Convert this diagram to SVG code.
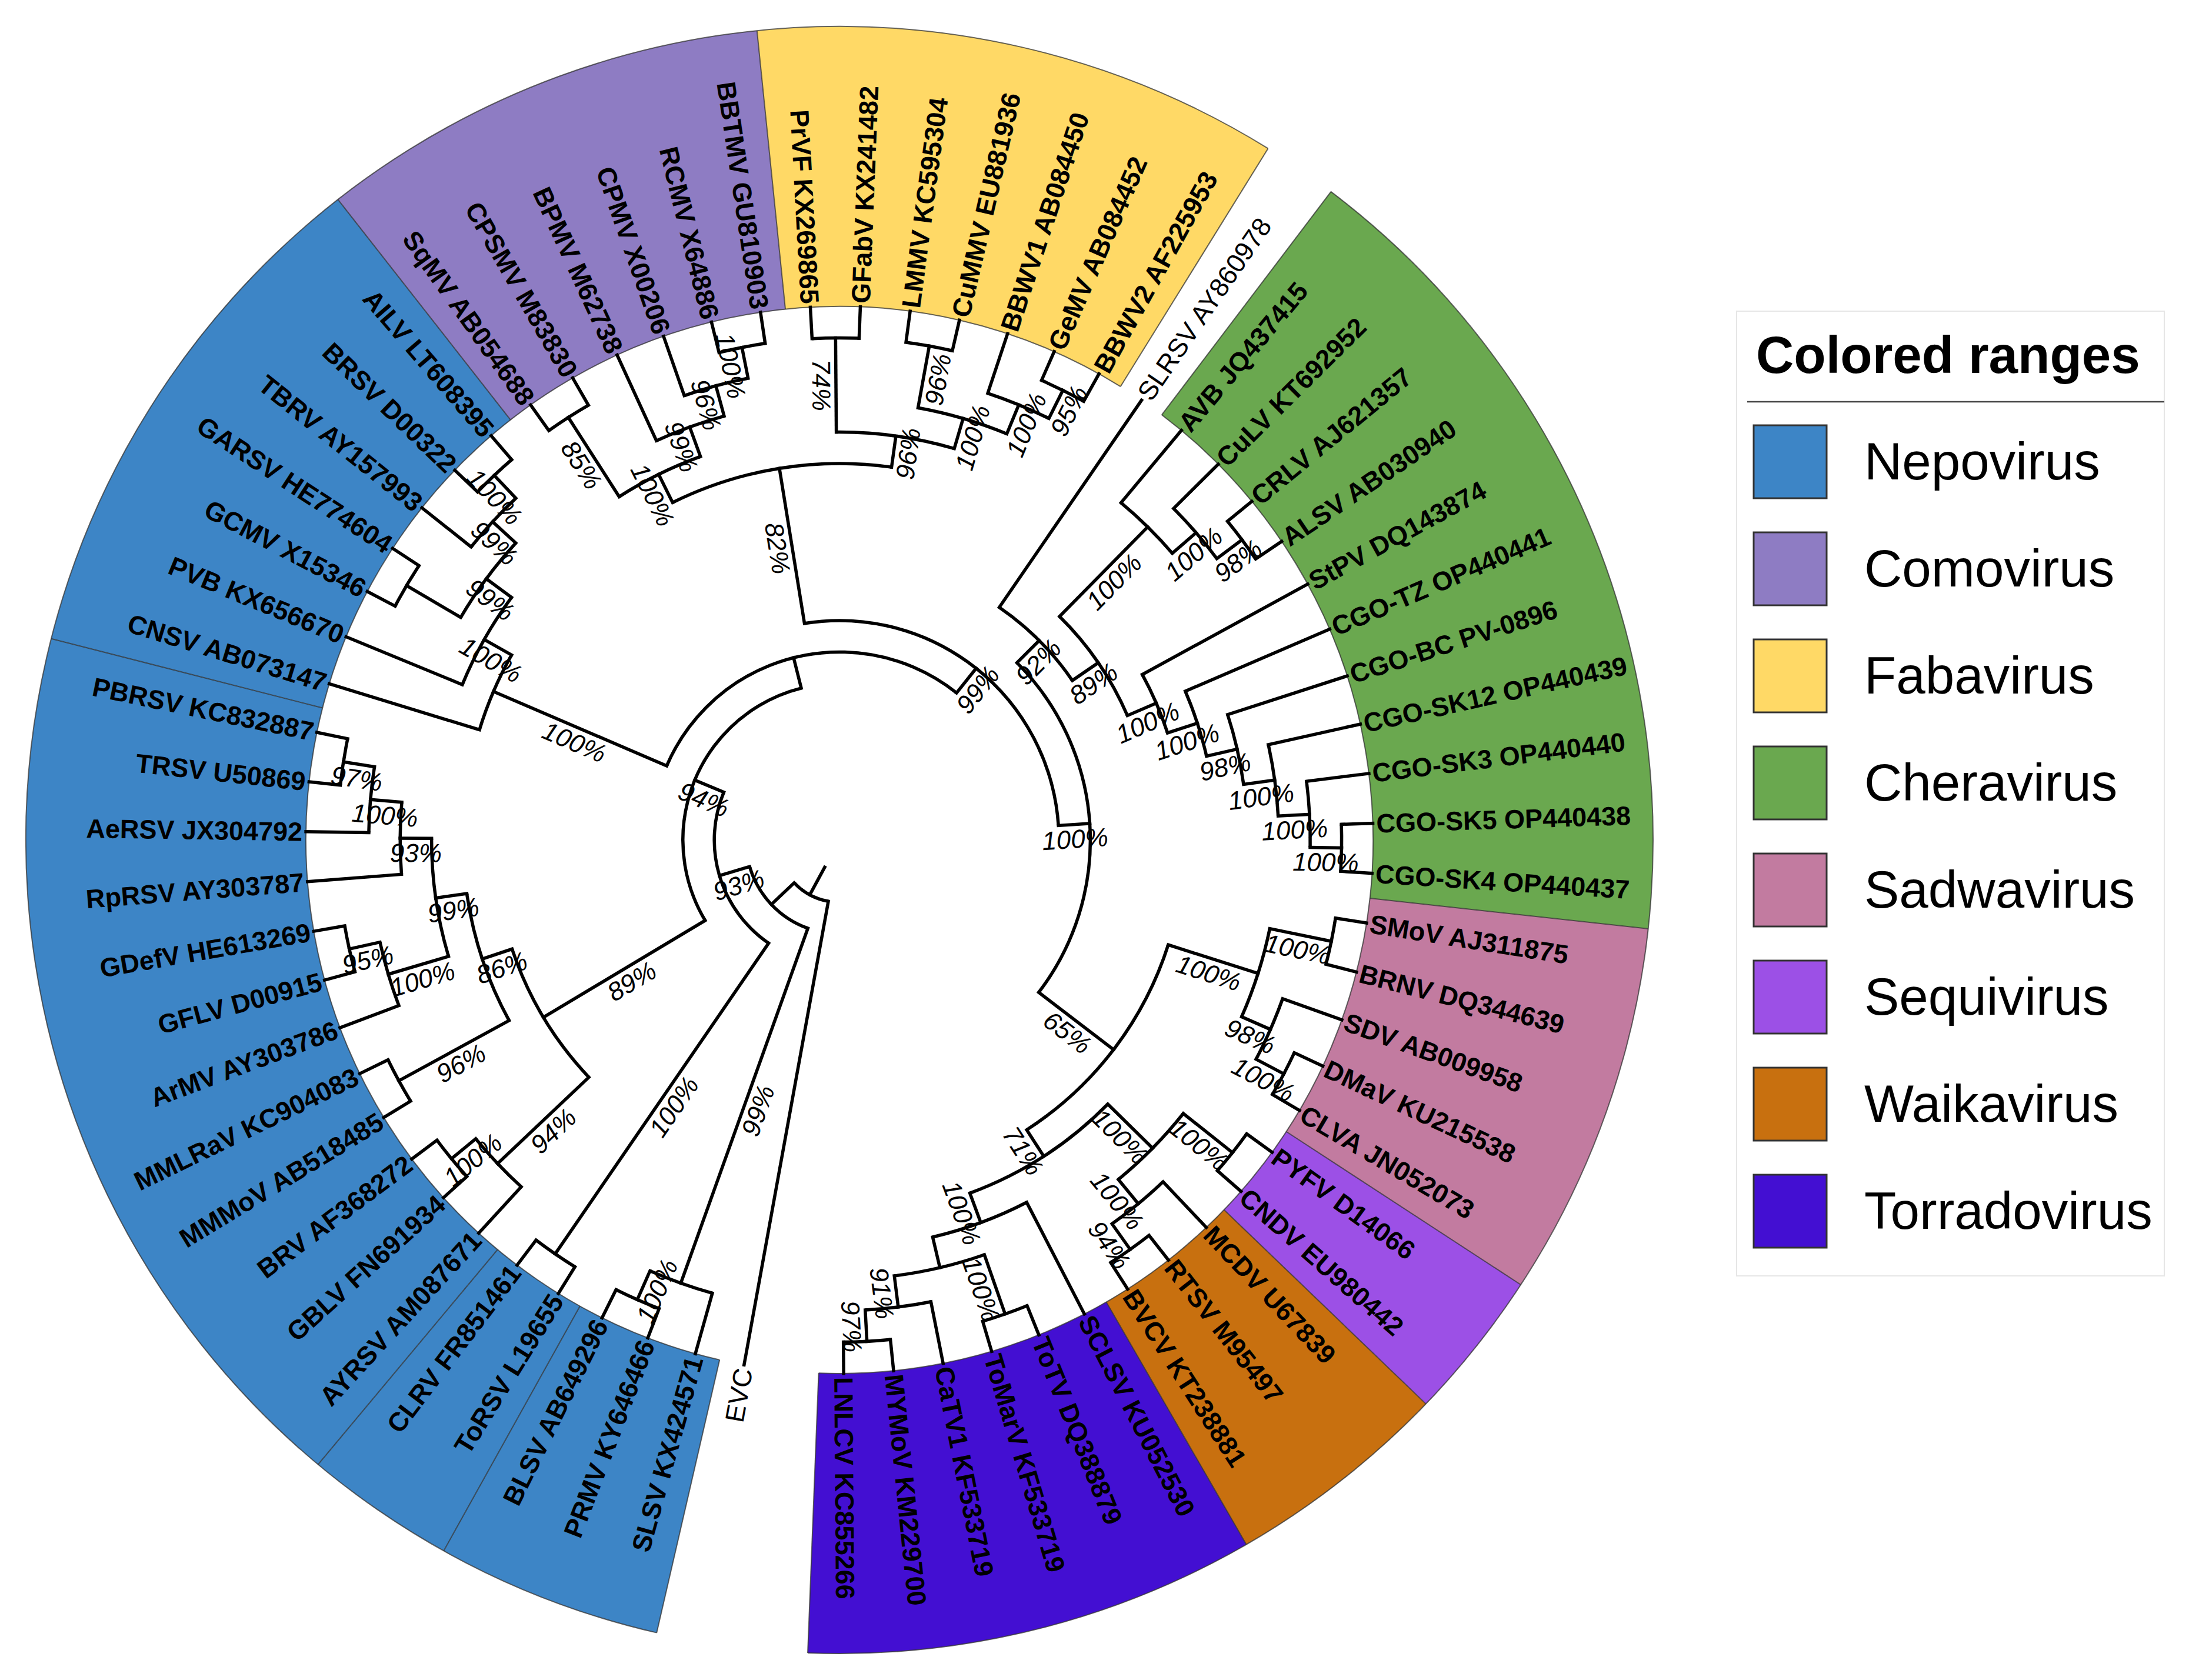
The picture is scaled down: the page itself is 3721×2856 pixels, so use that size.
<svg xmlns="http://www.w3.org/2000/svg" width="3721" height="2856" viewBox="0 0 3721 2856">
<style>
.lf{font-family:"Liberation Sans",Arial,sans-serif;font-size:45px;font-weight:bold;fill:#000}
.rg{font-weight:normal}
.e{text-anchor:end}
.bs{font-family:"Liberation Sans",Arial,sans-serif;font-size:44px;font-style:italic;text-anchor:middle;fill:#000}
.br line{stroke:#000;stroke-width:5.5;stroke-linecap:square}
.br circle{fill:none;stroke:#000;stroke-width:5.5}
.wd{fill:none;stroke-width:476}
.bd{fill:none;stroke:#333;stroke-opacity:0.75;stroke-width:2}
.lg{font-family:"Liberation Sans",Arial,sans-serif;font-size:89px;fill:#000}
.sw{stroke:#333;stroke-width:3}
</style>
<rect width="3721" height="2856" fill="#fff"/>
<g id="ranges" transform="translate(1427,1428)">
<circle class="wd" r="1145" stroke="#3d85c6" pathLength="360" stroke-dasharray="16.122 360" transform="rotate(102.983)"/>
<circle class="wd" r="1145" stroke="#3d85c6" pathLength="360" stroke-dasharray="10.75 360" transform="rotate(119.105)"/>
<circle class="wd" r="1145" stroke="#3d85c6" pathLength="360" stroke-dasharray="64.475 360" transform="rotate(129.855)"/>
<circle class="wd" r="1145" stroke="#3d85c6" pathLength="360" stroke-dasharray="37.61 360" transform="rotate(194.33)"/>
<circle class="wd" r="1145" stroke="#8e7cc3" pathLength="360" stroke-dasharray="32.24 360" transform="rotate(231.94)"/>
<circle class="wd" r="1145" stroke="#ffd966" pathLength="360" stroke-dasharray="37.607 360" transform="rotate(264.18)"/>
<circle class="wd" r="1145" stroke="#6aa84f" pathLength="360" stroke-dasharray="59.102 360" transform="rotate(307.163)"/>
<circle class="wd" r="1145" stroke="#c27ba0" pathLength="360" stroke-dasharray="26.87 360" transform="rotate(6.265)"/>
<circle class="wd" r="1145" stroke="#9c50e6" pathLength="360" stroke-dasharray="10.745 360" transform="rotate(33.135)"/>
<circle class="wd" r="1145" stroke="#c8700f" pathLength="360" stroke-dasharray="16.115 360" transform="rotate(43.88)"/>
<circle class="wd" r="1145" stroke="#430fd2" pathLength="360" stroke-dasharray="32.242 360" transform="rotate(59.995)"/>
<circle class="bd" r="1383" pathLength="360" stroke-dasharray="198.804 360" transform="rotate(102.983)"/>
<circle class="bd" r="907" pathLength="360" stroke-dasharray="198.804 360" transform="rotate(102.983)"/>
<circle class="bd" r="1383" pathLength="360" stroke-dasharray="145.074 360" transform="rotate(307.163)"/>
<circle class="bd" r="907" pathLength="360" stroke-dasharray="145.074 360" transform="rotate(307.163)"/>
<g class="bd">
<line x1="907" x2="1383" transform="rotate(102.983)"/>
<line x1="907" x2="1383" transform="rotate(119.105)"/>
<line x1="907" x2="1383" transform="rotate(129.855)"/>
<line x1="907" x2="1383" transform="rotate(194.33)"/>
<line x1="907" x2="1383" transform="rotate(231.94)"/>
<line x1="907" x2="1383" transform="rotate(264.18)"/>
<line x1="907" x2="1383" transform="rotate(301.787)"/>
<line x1="907" x2="1383" transform="rotate(307.163)"/>
<line x1="907" x2="1383" transform="rotate(6.265)"/>
<line x1="907" x2="1383" transform="rotate(33.135)"/>
<line x1="907" x2="1383" transform="rotate(43.88)"/>
<line x1="907" x2="1383" transform="rotate(59.995)"/>
<line x1="907" x2="1383" transform="rotate(92.237)"/>
</g>
</g>
<g id="branches" class="br" transform="translate(1427,1428)">
<line x1="52.6" x2="106" transform="rotate(118.45)"/>
<line x1="106" x2="907" transform="rotate(100.3)"/>
<line x1="106" x2="159.4" transform="rotate(136.59)"/>
<line x1="159.4" x2="800.2" transform="rotate(109.7)"/>
<line x1="159.4" x2="212.8" transform="rotate(163.48)"/>
<line x1="212.8" x2="853.6" transform="rotate(124.48)"/>
<line x1="212.8" x2="266.2" transform="rotate(202.48)"/>
<line x1="266.2" x2="586.6" transform="rotate(149.08)"/>
<line x1="266.2" x2="319.6" transform="rotate(255.875)"/>
<line x1="319.6" x2="640" transform="rotate(203.23)"/>
<line x1="319.6" x2="373" transform="rotate(308.52)"/>
<line x1="373" x2="640" transform="rotate(260.82)"/>
<line x1="373" x2="426.4" transform="rotate(356.22)"/>
<line x1="426.4" x2="479.8" transform="rotate(315.03)"/>
<line x1="426.4" x2="586.6" transform="rotate(37.41)"/>
<line x1="479.8" x2="907" transform="rotate(304.48)"/>
<line x1="479.8" x2="533.2" transform="rotate(325.59)"/>
<line x1="533.2" x2="746.8" transform="rotate(314.55)"/>
<line x1="746.8" x2="907" transform="rotate(309.85)"/>
<line x1="746.8" x2="800.2" transform="rotate(319.25)"/>
<line x1="800.2" x2="907" transform="rotate(315.22)"/>
<line x1="800.2" x2="853.6" transform="rotate(323.285)"/>
<line x1="853.6" x2="907" transform="rotate(320.6)"/>
<line x1="853.6" x2="907" transform="rotate(325.97)"/>
<line x1="533.2" x2="586.6" transform="rotate(336.63)"/>
<line x1="586.6" x2="907" transform="rotate(331.34)"/>
<line x1="586.6" x2="640" transform="rotate(341.92)"/>
<line x1="640" x2="907" transform="rotate(336.72)"/>
<line x1="640" x2="693.4" transform="rotate(347.13)"/>
<line x1="693.4" x2="907" transform="rotate(342.09)"/>
<line x1="693.4" x2="746.8" transform="rotate(352.165)"/>
<line x1="746.8" x2="907" transform="rotate(347.46)"/>
<line x1="746.8" x2="800.2" transform="rotate(356.87)"/>
<line x1="800.2" x2="907" transform="rotate(352.84)"/>
<line x1="800.2" x2="853.6" transform="rotate(0.895)"/>
<line x1="853.6" x2="907" transform="rotate(358.21)"/>
<line x1="853.6" x2="907" transform="rotate(3.58)"/>
<line x1="586.6" x2="746.8" transform="rotate(17.685)"/>
<line x1="746.8" x2="853.6" transform="rotate(11.64)"/>
<line x1="853.6" x2="907" transform="rotate(8.95)"/>
<line x1="853.6" x2="907" transform="rotate(14.33)"/>
<line x1="746.8" x2="800.2" transform="rotate(23.73)"/>
<line x1="800.2" x2="907" transform="rotate(19.7)"/>
<line x1="800.2" x2="853.6" transform="rotate(27.76)"/>
<line x1="853.6" x2="907" transform="rotate(25.07)"/>
<line x1="853.6" x2="907" transform="rotate(30.45)"/>
<line x1="586.6" x2="640" transform="rotate(57.14)"/>
<line x1="640" x2="746.8" transform="rotate(44.55)"/>
<line x1="746.8" x2="853.6" transform="rotate(38.505)"/>
<line x1="853.6" x2="907" transform="rotate(35.82)"/>
<line x1="853.6" x2="907" transform="rotate(41.19)"/>
<line x1="746.8" x2="800.2" transform="rotate(50.6)"/>
<line x1="800.2" x2="907" transform="rotate(46.57)"/>
<line x1="800.2" x2="853.6" transform="rotate(54.625)"/>
<line x1="853.6" x2="907" transform="rotate(51.94)"/>
<line x1="853.6" x2="907" transform="rotate(57.31)"/>
<line x1="640" x2="693.4" transform="rotate(69.735)"/>
<line x1="693.4" x2="907" transform="rotate(62.68)"/>
<line x1="693.4" x2="746.8" transform="rotate(76.79)"/>
<line x1="746.8" x2="853.6" transform="rotate(70.745)"/>
<line x1="853.6" x2="907" transform="rotate(68.06)"/>
<line x1="853.6" x2="907" transform="rotate(73.43)"/>
<line x1="746.8" x2="800.2" transform="rotate(82.83)"/>
<line x1="800.2" x2="907" transform="rotate(78.8)"/>
<line x1="800.2" x2="853.6" transform="rotate(86.865)"/>
<line x1="853.6" x2="907" transform="rotate(84.18)"/>
<line x1="853.6" x2="907" transform="rotate(89.55)"/>
<line x1="640" x2="693.4" transform="rotate(243.69)"/>
<line x1="693.4" x2="853.6" transform="rotate(237.315)"/>
<line x1="853.6" x2="907" transform="rotate(234.63)"/>
<line x1="853.6" x2="907" transform="rotate(240)"/>
<line x1="693.4" x2="746.8" transform="rotate(250.07)"/>
<line x1="746.8" x2="907" transform="rotate(245.37)"/>
<line x1="746.8" x2="800.2" transform="rotate(254.78)"/>
<line x1="800.2" x2="907" transform="rotate(250.75)"/>
<line x1="800.2" x2="853.6" transform="rotate(258.805)"/>
<line x1="853.6" x2="907" transform="rotate(256.12)"/>
<line x1="853.6" x2="907" transform="rotate(261.49)"/>
<line x1="640" x2="693.4" transform="rotate(277.95)"/>
<line x1="693.4" x2="853.6" transform="rotate(269.555)"/>
<line x1="853.6" x2="907" transform="rotate(266.87)"/>
<line x1="853.6" x2="907" transform="rotate(272.24)"/>
<line x1="693.4" x2="746.8" transform="rotate(286.345)"/>
<line x1="746.8" x2="853.6" transform="rotate(280.3)"/>
<line x1="853.6" x2="907" transform="rotate(277.61)"/>
<line x1="853.6" x2="907" transform="rotate(282.99)"/>
<line x1="746.8" x2="800.2" transform="rotate(292.39)"/>
<line x1="800.2" x2="907" transform="rotate(288.36)"/>
<line x1="800.2" x2="853.6" transform="rotate(296.415)"/>
<line x1="853.6" x2="907" transform="rotate(293.73)"/>
<line x1="853.6" x2="907" transform="rotate(299.1)"/>
<line x1="640" x2="907" transform="rotate(197.02)"/>
<line x1="640" x2="693.4" transform="rotate(209.44)"/>
<line x1="693.4" x2="907" transform="rotate(202.39)"/>
<line x1="693.4" x2="746.8" transform="rotate(216.49)"/>
<line x1="746.8" x2="853.6" transform="rotate(210.445)"/>
<line x1="853.6" x2="907" transform="rotate(207.76)"/>
<line x1="853.6" x2="907" transform="rotate(213.13)"/>
<line x1="746.8" x2="800.2" transform="rotate(222.54)"/>
<line x1="800.2" x2="907" transform="rotate(218.51)"/>
<line x1="800.2" x2="853.6" transform="rotate(226.565)"/>
<line x1="853.6" x2="907" transform="rotate(223.88)"/>
<line x1="853.6" x2="907" transform="rotate(229.25)"/>
<line x1="586.6" x2="800.2" transform="rotate(136.57)"/>
<line x1="800.2" x2="907" transform="rotate(132.54)"/>
<line x1="800.2" x2="853.6" transform="rotate(140.595)"/>
<line x1="853.6" x2="907" transform="rotate(137.91)"/>
<line x1="853.6" x2="907" transform="rotate(143.28)"/>
<line x1="586.6" x2="640" transform="rotate(161.585)"/>
<line x1="640" x2="853.6" transform="rotate(151.345)"/>
<line x1="853.6" x2="907" transform="rotate(148.66)"/>
<line x1="853.6" x2="907" transform="rotate(154.03)"/>
<line x1="640" x2="693.4" transform="rotate(171.825)"/>
<line x1="693.4" x2="800.2" transform="rotate(163.43)"/>
<line x1="800.2" x2="907" transform="rotate(159.4)"/>
<line x1="800.2" x2="853.6" transform="rotate(167.465)"/>
<line x1="853.6" x2="907" transform="rotate(164.78)"/>
<line x1="853.6" x2="907" transform="rotate(170.15)"/>
<line x1="693.4" x2="746.8" transform="rotate(180.22)"/>
<line x1="746.8" x2="907" transform="rotate(175.52)"/>
<line x1="746.8" x2="800.2" transform="rotate(184.93)"/>
<line x1="800.2" x2="907" transform="rotate(180.9)"/>
<line x1="800.2" x2="853.6" transform="rotate(188.955)"/>
<line x1="853.6" x2="907" transform="rotate(186.27)"/>
<line x1="853.6" x2="907" transform="rotate(191.64)"/>
<line x1="853.6" x2="907" transform="rotate(121.79)"/>
<line x1="853.6" x2="907" transform="rotate(127.17)"/>
<line x1="800.2" x2="907" transform="rotate(105.67)"/>
<line x1="800.2" x2="853.6" transform="rotate(113.735)"/>
<line x1="853.6" x2="907" transform="rotate(111.05)"/>
<line x1="853.6" x2="907" transform="rotate(116.42)"/>
<circle r="106" pathLength="360" stroke-dasharray="36.29 360" transform="rotate(100.3)"/>
<circle r="159.4" pathLength="360" stroke-dasharray="53.78 360" transform="rotate(109.7)"/>
<circle r="212.8" pathLength="360" stroke-dasharray="78 360" transform="rotate(124.48)"/>
<circle r="266.2" pathLength="360" stroke-dasharray="106.795 360" transform="rotate(149.08)"/>
<circle r="319.6" pathLength="360" stroke-dasharray="105.29 360" transform="rotate(203.23)"/>
<circle r="373" pathLength="360" stroke-dasharray="95.4 360" transform="rotate(260.82)"/>
<circle r="426.4" pathLength="360" stroke-dasharray="82.38 360" transform="rotate(315.03)"/>
<circle r="479.8" pathLength="360" stroke-dasharray="21.11 360" transform="rotate(304.48)"/>
<circle r="533.2" pathLength="360" stroke-dasharray="22.08 360" transform="rotate(314.55)"/>
<circle r="746.8" pathLength="360" stroke-dasharray="9.4 360" transform="rotate(309.85)"/>
<circle r="800.2" pathLength="360" stroke-dasharray="8.065 360" transform="rotate(315.22)"/>
<circle r="853.6" pathLength="360" stroke-dasharray="5.37 360" transform="rotate(320.6)"/>
<circle r="586.6" pathLength="360" stroke-dasharray="10.58 360" transform="rotate(331.34)"/>
<circle r="640" pathLength="360" stroke-dasharray="10.41 360" transform="rotate(336.72)"/>
<circle r="693.4" pathLength="360" stroke-dasharray="10.075 360" transform="rotate(342.09)"/>
<circle r="746.8" pathLength="360" stroke-dasharray="9.41 360" transform="rotate(347.46)"/>
<circle r="800.2" pathLength="360" stroke-dasharray="8.055 360" transform="rotate(352.84)"/>
<circle r="853.6" pathLength="360" stroke-dasharray="5.37 360" transform="rotate(358.21)"/>
<circle r="586.6" pathLength="360" stroke-dasharray="39.455 360" transform="rotate(17.685)"/>
<circle r="746.8" pathLength="360" stroke-dasharray="12.09 360" transform="rotate(11.64)"/>
<circle r="853.6" pathLength="360" stroke-dasharray="5.38 360" transform="rotate(8.95)"/>
<circle r="800.2" pathLength="360" stroke-dasharray="8.06 360" transform="rotate(19.7)"/>
<circle r="853.6" pathLength="360" stroke-dasharray="5.38 360" transform="rotate(25.07)"/>
<circle r="640" pathLength="360" stroke-dasharray="25.185 360" transform="rotate(44.55)"/>
<circle r="746.8" pathLength="360" stroke-dasharray="12.095 360" transform="rotate(38.505)"/>
<circle r="853.6" pathLength="360" stroke-dasharray="5.37 360" transform="rotate(35.82)"/>
<circle r="800.2" pathLength="360" stroke-dasharray="8.055 360" transform="rotate(46.57)"/>
<circle r="853.6" pathLength="360" stroke-dasharray="5.37 360" transform="rotate(51.94)"/>
<circle r="693.4" pathLength="360" stroke-dasharray="14.11 360" transform="rotate(62.68)"/>
<circle r="746.8" pathLength="360" stroke-dasharray="12.085 360" transform="rotate(70.745)"/>
<circle r="853.6" pathLength="360" stroke-dasharray="5.37 360" transform="rotate(68.06)"/>
<circle r="800.2" pathLength="360" stroke-dasharray="8.065 360" transform="rotate(78.8)"/>
<circle r="853.6" pathLength="360" stroke-dasharray="5.37 360" transform="rotate(84.18)"/>
<circle r="640" pathLength="360" stroke-dasharray="34.26 360" transform="rotate(243.69)"/>
<circle r="693.4" pathLength="360" stroke-dasharray="12.755 360" transform="rotate(237.315)"/>
<circle r="853.6" pathLength="360" stroke-dasharray="5.37 360" transform="rotate(234.63)"/>
<circle r="746.8" pathLength="360" stroke-dasharray="9.41 360" transform="rotate(245.37)"/>
<circle r="800.2" pathLength="360" stroke-dasharray="8.055 360" transform="rotate(250.75)"/>
<circle r="853.6" pathLength="360" stroke-dasharray="5.37 360" transform="rotate(256.12)"/>
<circle r="693.4" pathLength="360" stroke-dasharray="16.79 360" transform="rotate(269.555)"/>
<circle r="853.6" pathLength="360" stroke-dasharray="5.37 360" transform="rotate(266.87)"/>
<circle r="746.8" pathLength="360" stroke-dasharray="12.09 360" transform="rotate(280.3)"/>
<circle r="853.6" pathLength="360" stroke-dasharray="5.38 360" transform="rotate(277.61)"/>
<circle r="800.2" pathLength="360" stroke-dasharray="8.055 360" transform="rotate(288.36)"/>
<circle r="853.6" pathLength="360" stroke-dasharray="5.37 360" transform="rotate(293.73)"/>
<circle r="640" pathLength="360" stroke-dasharray="12.42 360" transform="rotate(197.02)"/>
<circle r="693.4" pathLength="360" stroke-dasharray="14.1 360" transform="rotate(202.39)"/>
<circle r="746.8" pathLength="360" stroke-dasharray="12.095 360" transform="rotate(210.445)"/>
<circle r="853.6" pathLength="360" stroke-dasharray="5.37 360" transform="rotate(207.76)"/>
<circle r="800.2" pathLength="360" stroke-dasharray="8.055 360" transform="rotate(218.51)"/>
<circle r="853.6" pathLength="360" stroke-dasharray="5.37 360" transform="rotate(223.88)"/>
<circle r="586.6" pathLength="360" stroke-dasharray="25.015 360" transform="rotate(136.57)"/>
<circle r="800.2" pathLength="360" stroke-dasharray="8.055 360" transform="rotate(132.54)"/>
<circle r="853.6" pathLength="360" stroke-dasharray="5.37 360" transform="rotate(137.91)"/>
<circle r="640" pathLength="360" stroke-dasharray="20.48 360" transform="rotate(151.345)"/>
<circle r="853.6" pathLength="360" stroke-dasharray="5.37 360" transform="rotate(148.66)"/>
<circle r="693.4" pathLength="360" stroke-dasharray="16.79 360" transform="rotate(163.43)"/>
<circle r="800.2" pathLength="360" stroke-dasharray="8.065 360" transform="rotate(159.4)"/>
<circle r="853.6" pathLength="360" stroke-dasharray="5.37 360" transform="rotate(164.78)"/>
<circle r="746.8" pathLength="360" stroke-dasharray="9.41 360" transform="rotate(175.52)"/>
<circle r="800.2" pathLength="360" stroke-dasharray="8.055 360" transform="rotate(180.9)"/>
<circle r="853.6" pathLength="360" stroke-dasharray="5.37 360" transform="rotate(186.27)"/>
<circle r="853.6" pathLength="360" stroke-dasharray="5.38 360" transform="rotate(121.79)"/>
<circle r="800.2" pathLength="360" stroke-dasharray="8.065 360" transform="rotate(105.67)"/>
<circle r="853.6" pathLength="360" stroke-dasharray="5.37 360" transform="rotate(111.05)"/>
</g>
<g id="bootstrap" class="bs" transform="translate(1427,1428)">
<text transform="rotate(-70.3)" x="-479.8" y="40">99%</text>
<text transform="rotate(-66.265)" x="-826.9" y="40">100%</text>
<text transform="rotate(-16.52)" x="-186.1" y="40">93%</text>
<text transform="rotate(-55.52)" x="-533.2" y="40">100%</text>
<text transform="rotate(22.48)" x="-239.5" y="40">94%</text>
<text transform="rotate(-30.92)" x="-426.4" y="40">89%</text>
<text transform="rotate(23.23)" x="-479.8" y="40">100%</text>
<text transform="rotate(80.82)" x="-506.5" y="40">82%</text>
<text transform="rotate(63.69)" x="-666.7" y="40">100%</text>
<text transform="rotate(57.315)" x="-773.5" y="40">85%</text>
<text transform="rotate(70.07)" x="-720.1" y="40">99%</text>
<text transform="rotate(74.78)" x="-773.5" y="40">96%</text>
<text transform="rotate(78.805)" x="-826.9" y="40">100%</text>
<text transform="rotate(89.555)" x="-773.5" y="40">74%</text>
<text transform="rotate(29.44)" x="-666.7" y="40">100%</text>
<text transform="rotate(36.49)" x="-720.1" y="40">99%</text>
<text transform="rotate(42.54)" x="-773.5" y="40">99%</text>
<text transform="rotate(46.565)" x="-826.9" y="40">100%</text>
<text transform="rotate(-43.43)" x="-693.4" y="40">94%</text>
<text transform="rotate(-39.405)" x="-826.9" y="40">100%</text>
<text transform="rotate(-18.415)" x="-613.3" y="40">86%</text>
<text transform="rotate(-28.655)" x="-746.8" y="40">96%</text>
<text transform="rotate(-8.175)" x="-666.7" y="40">99%</text>
<text transform="rotate(-16.57)" x="-746.8" y="40">100%</text>
<text transform="rotate(-12.535)" x="-826.9" y="40">95%</text>
<text transform="rotate(0.22)" x="-720.1" y="40">93%</text>
<text transform="rotate(4.93)" x="-773.5" y="40">100%</text>
<text transform="rotate(8.955)" x="-826.9" y="40">97%</text>
<text transform="rotate(-51.48)" x="346.3" y="40">99%</text>
<text transform="rotate(-3.78)" x="399.7" y="40">100%</text>
<text transform="rotate(-44.97)" x="453.1" y="40">92%</text>
<text transform="rotate(37.41)" x="506.5" y="40">65%</text>
<text transform="rotate(-34.41)" x="506.5" y="40">89%</text>
<text transform="rotate(-45.45)" x="640" y="40">100%</text>
<text transform="rotate(-40.75)" x="773.5" y="40">100%</text>
<text transform="rotate(-36.715)" x="826.9" y="40">98%</text>
<text transform="rotate(-23.37)" x="559.9" y="40">100%</text>
<text transform="rotate(-18.08)" x="613.3" y="40">100%</text>
<text transform="rotate(-12.87)" x="666.7" y="40">98%</text>
<text transform="rotate(-7.835)" x="720.1" y="40">100%</text>
<text transform="rotate(-3.13)" x="773.5" y="40">100%</text>
<text transform="rotate(0.895)" x="826.9" y="40">100%</text>
<text transform="rotate(17.685)" x="666.7" y="40">100%</text>
<text transform="rotate(11.64)" x="800.2" y="40">100%</text>
<text transform="rotate(23.73)" x="773.5" y="40">98%</text>
<text transform="rotate(27.76)" x="826.9" y="40">100%</text>
<text transform="rotate(57.14)" x="613.3" y="40">71%</text>
<text transform="rotate(44.55)" x="693.4" y="40">100%</text>
<text transform="rotate(38.505)" x="800.2" y="40">100%</text>
<text transform="rotate(50.6)" x="773.5" y="40">100%</text>
<text transform="rotate(54.625)" x="826.9" y="40">94%</text>
<text transform="rotate(69.735)" x="666.7" y="40">100%</text>
<text transform="rotate(70.745)" x="800.2" y="40">100%</text>
<text transform="rotate(82.83)" x="773.5" y="40">91%</text>
<text transform="rotate(86.865)" x="826.9" y="40">97%</text>
<text transform="rotate(-82.05)" x="666.7" y="40">96%</text>
<text transform="rotate(-73.655)" x="720.1" y="40">100%</text>
<text transform="rotate(-79.7)" x="800.2" y="40">96%</text>
<text transform="rotate(-67.61)" x="773.5" y="40">100%</text>
<text transform="rotate(-63.585)" x="826.9" y="40">95%</text>
</g>
<g id="leaves" class="lf" transform="translate(1427,1428)">
<g id="leaf-EVC"><text class="e rg" transform="rotate(-79.7)" x="-913" y="16">EVC</text></g>
<g id="leaf-SLSV"><text class="e" transform="rotate(-74.33)" x="-913" y="16">SLSV KX424571</text></g>
<g id="leaf-PRMV"><text class="e" transform="rotate(-68.95)" x="-913" y="16">PRMV KY646466</text></g>
<g id="leaf-BLSV"><text class="e" transform="rotate(-63.58)" x="-913" y="16">BLSV AB649296</text></g>
<g id="leaf-ToRSV"><text class="e" transform="rotate(-58.21)" x="-913" y="16">ToRSV L19655</text></g>
<g id="leaf-CLRV"><text class="e" transform="rotate(-52.83)" x="-913" y="16">CLRV FR851461</text></g>
<g id="leaf-AYRSV"><text class="e" transform="rotate(-47.46)" x="-913" y="16">AYRSV AM087671</text></g>
<g id="leaf-GBLV"><text class="e" transform="rotate(-42.09)" x="-913" y="16">GBLV FN691934</text></g>
<g id="leaf-BRV"><text class="e" transform="rotate(-36.72)" x="-913" y="16">BRV AF368272</text></g>
<g id="leaf-MMMoV"><text class="e" transform="rotate(-31.34)" x="-913" y="16">MMMoV AB518485</text></g>
<g id="leaf-MMLRaV"><text class="e" transform="rotate(-25.97)" x="-913" y="16">MMLRaV KC904083</text></g>
<g id="leaf-ArMV"><text class="e" transform="rotate(-20.6)" x="-913" y="16">ArMV AY303786</text></g>
<g id="leaf-GFLV"><text class="e" transform="rotate(-15.22)" x="-913" y="16">GFLV D00915</text></g>
<g id="leaf-GDefV"><text class="e" transform="rotate(-9.85)" x="-913" y="16">GDefV HE613269</text></g>
<g id="leaf-RpRSV"><text class="e" transform="rotate(-4.48)" x="-913" y="16">RpRSV AY303787</text></g>
<g id="leaf-AeRSV"><text class="e" transform="rotate(0.9)" x="-913" y="16">AeRSV JX304792</text></g>
<g id="leaf-TRSV"><text class="e" transform="rotate(6.27)" x="-913" y="16">TRSV U50869</text></g>
<g id="leaf-PBRSV"><text class="e" transform="rotate(11.64)" x="-913" y="16">PBRSV KC832887</text></g>
<g id="leaf-CNSV"><text class="e" transform="rotate(17.02)" x="-913" y="16">CNSV AB073147</text></g>
<g id="leaf-PVB"><text class="e" transform="rotate(22.39)" x="-913" y="16">PVB KX656670</text></g>
<g id="leaf-GCMV"><text class="e" transform="rotate(27.76)" x="-913" y="16">GCMV X15346</text></g>
<g id="leaf-GARSV"><text class="e" transform="rotate(33.13)" x="-913" y="16">GARSV HE774604</text></g>
<g id="leaf-TBRV"><text class="e" transform="rotate(38.51)" x="-913" y="16">TBRV AY157993</text></g>
<g id="leaf-BRSV"><text class="e" transform="rotate(43.88)" x="-913" y="16">BRSV D00322</text></g>
<g id="leaf-AILV"><text class="e" transform="rotate(49.25)" x="-913" y="16">AILV LT608395</text></g>
<g id="leaf-SqMV"><text class="e" transform="rotate(54.63)" x="-913" y="16">SqMV AB054688</text></g>
<g id="leaf-CPSMV"><text class="e" transform="rotate(60)" x="-913" y="16">CPSMV M83830</text></g>
<g id="leaf-BPMV"><text class="e" transform="rotate(65.37)" x="-913" y="16">BPMV M62738</text></g>
<g id="leaf-CPMV"><text class="e" transform="rotate(70.75)" x="-913" y="16">CPMV X00206</text></g>
<g id="leaf-RCMV"><text class="e" transform="rotate(76.12)" x="-913" y="16">RCMV X64886</text></g>
<g id="leaf-BBTMV"><text class="e" transform="rotate(81.49)" x="-913" y="16">BBTMV GU810903</text></g>
<g id="leaf-PrVF"><text class="e" transform="rotate(86.87)" x="-913" y="16">PrVF KX269865</text></g>
<g id="leaf-GFabV"><text transform="rotate(-87.76)" x="913" y="16">GFabV KX241482</text></g>
<g id="leaf-LMMV"><text transform="rotate(-82.39)" x="913" y="16">LMMV KC595304</text></g>
<g id="leaf-CuMMV"><text transform="rotate(-77.01)" x="913" y="16">CuMMV EU881936</text></g>
<g id="leaf-BBWV1"><text transform="rotate(-71.64)" x="913" y="16">BBWV1 AB084450</text></g>
<g id="leaf-GeMV"><text transform="rotate(-66.27)" x="913" y="16">GeMV AB084452</text></g>
<g id="leaf-BBWV2"><text transform="rotate(-60.9)" x="913" y="16">BBWV2 AF225953</text></g>
<g id="leaf-SLRSV"><text class="rg" transform="rotate(-55.52)" x="913" y="16">SLRSV AY860978</text></g>
<g id="leaf-AVB"><text transform="rotate(-50.15)" x="913" y="16">AVB JQ437415</text></g>
<g id="leaf-CuLV"><text transform="rotate(-44.78)" x="913" y="16">CuLV KT692952</text></g>
<g id="leaf-CRLV"><text transform="rotate(-39.4)" x="913" y="16">CRLV AJ621357</text></g>
<g id="leaf-ALSV"><text transform="rotate(-34.03)" x="913" y="16">ALSV AB030940</text></g>
<g id="leaf-StPV"><text transform="rotate(-28.66)" x="913" y="16">StPV DQ143874</text></g>
<g id="leaf-CGO-TZ"><text transform="rotate(-23.28)" x="913" y="16">CGO-TZ OP440441</text></g>
<g id="leaf-CGO-BC"><text transform="rotate(-17.91)" x="913" y="16">CGO-BC PV-0896</text></g>
<g id="leaf-CGO-SK12"><text transform="rotate(-12.54)" x="913" y="16">CGO-SK12 OP440439</text></g>
<g id="leaf-CGO-SK3"><text transform="rotate(-7.16)" x="913" y="16">CGO-SK3 OP440440</text></g>
<g id="leaf-CGO-SK5"><text transform="rotate(-1.79)" x="913" y="16">CGO-SK5 OP440438</text></g>
<g id="leaf-CGO-SK4"><text transform="rotate(3.58)" x="913" y="16">CGO-SK4 OP440437</text></g>
<g id="leaf-SMoV"><text transform="rotate(8.95)" x="913" y="16">SMoV AJ311875</text></g>
<g id="leaf-BRNV"><text transform="rotate(14.33)" x="913" y="16">BRNV DQ344639</text></g>
<g id="leaf-SDV"><text transform="rotate(19.7)" x="913" y="16">SDV AB009958</text></g>
<g id="leaf-DMaV"><text transform="rotate(25.07)" x="913" y="16">DMaV KU215538</text></g>
<g id="leaf-CLVA"><text transform="rotate(30.45)" x="913" y="16">CLVA JN052073</text></g>
<g id="leaf-PYFV"><text transform="rotate(35.82)" x="913" y="16">PYFV D14066</text></g>
<g id="leaf-CNDV"><text transform="rotate(41.19)" x="913" y="16">CNDV EU980442</text></g>
<g id="leaf-MCDV"><text transform="rotate(46.57)" x="913" y="16">MCDV U67839</text></g>
<g id="leaf-RTSV"><text transform="rotate(51.94)" x="913" y="16">RTSV M95497</text></g>
<g id="leaf-BVCV"><text transform="rotate(57.31)" x="913" y="16">BVCV KT238881</text></g>
<g id="leaf-SCLSV"><text transform="rotate(62.68)" x="913" y="16">SCLSV KU052530</text></g>
<g id="leaf-ToTV"><text transform="rotate(68.06)" x="913" y="16">ToTV DQ388879</text></g>
<g id="leaf-ToMarV"><text transform="rotate(73.43)" x="913" y="16">ToMarV KF533719</text></g>
<g id="leaf-CaTV1"><text transform="rotate(78.8)" x="913" y="16">CaTV1 KF533719</text></g>
<g id="leaf-MYMoV"><text transform="rotate(84.18)" x="913" y="16">MYMoV KM229700</text></g>
<g id="leaf-LNLCV"><text transform="rotate(89.55)" x="913" y="16">LNLCV KC855266</text></g>
</g>
<g id="legend">
<rect x="2952" y="529" width="727" height="1640" fill="#fff" stroke="#e6e6e6" stroke-width="2"/>
<text class="lg" x="2985" y="634" font-weight="bold">Colored ranges</text>
<line x1="2970" y1="683" x2="3679" y2="683" stroke="#444" stroke-width="2.5"/>
<g id="legend-Nepovirus"><rect class="sw" x="2981" y="723" width="124" height="124" fill="#3d85c6"/><text class="lg" x="3169" y="815">Nepovirus</text></g>
<g id="legend-Comovirus"><rect class="sw" x="2981" y="905" width="124" height="124" fill="#8e7cc3"/><text class="lg" x="3169" y="997">Comovirus</text></g>
<g id="legend-Fabavirus"><rect class="sw" x="2981" y="1087" width="124" height="124" fill="#ffd966"/><text class="lg" x="3169" y="1179">Fabavirus</text></g>
<g id="legend-Cheravirus"><rect class="sw" x="2981" y="1269" width="124" height="124" fill="#6aa84f"/><text class="lg" x="3169" y="1361">Cheravirus</text></g>
<g id="legend-Sadwavirus"><rect class="sw" x="2981" y="1451" width="124" height="124" fill="#c27ba0"/><text class="lg" x="3169" y="1543">Sadwavirus</text></g>
<g id="legend-Sequivirus"><rect class="sw" x="2981" y="1633" width="124" height="124" fill="#9c50e6"/><text class="lg" x="3169" y="1725">Sequivirus</text></g>
<g id="legend-Waikavirus"><rect class="sw" x="2981" y="1815" width="124" height="124" fill="#c8700f"/><text class="lg" x="3169" y="1907">Waikavirus</text></g>
<g id="legend-Torradovirus"><rect class="sw" x="2981" y="1997" width="124" height="124" fill="#430fd2"/><text class="lg" x="3169" y="2089">Torradovirus</text></g>
</g>
</svg>
